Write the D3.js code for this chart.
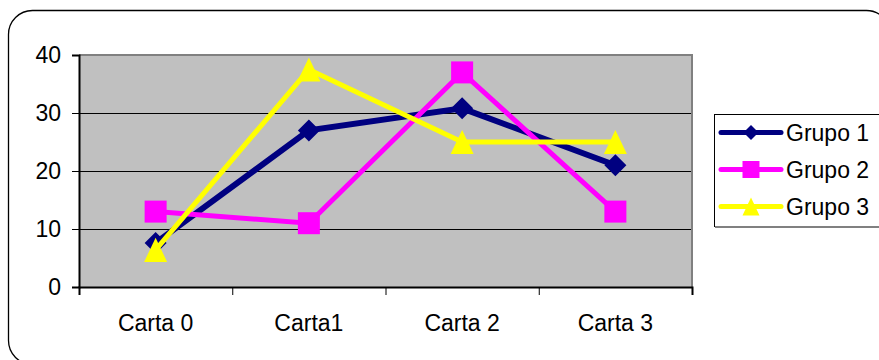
<!DOCTYPE html>
<html>
<head>
<meta charset="utf-8">
<script src="https://cdn.jsdelivr.net/npm/d3@7"></script>
<style>
  html, body { margin: 0; padding: 0; background: #fff; }
  svg { display: block; font-family: "Liberation Sans", Arial, sans-serif; }
</style>
</head>
<body>
<svg id="chart" width="879" height="360"></svg>
<script>
// Categories and series values
const categories = ["Carta 0", "Carta1", "Carta 2", "Carta 3"];
const grupo1 = [7.6, 27, 30.8, 21];
const grupo2 = [13, 11, 37, 13];
const grupo3 = [6.4, 37.5, 25, 25];
const seriesNames = ["Grupo 1", "Grupo 2", "Grupo 3"];
const yTicks = [0, 10, 20, 30, 40];

const series = [
  { name: seriesNames[0], values: grupo1, color: "#000080", symbol: "diamond" },
  { name: seriesNames[1], values: grupo2, color: "#FF00FF", symbol: "square" },
  { name: seriesNames[2], values: grupo3, color: "#FFFF00", symbol: "triangle" }
];

const svg = d3.select("#chart");
const plot = { left: 79, right: 692, top: 55, bottom: 287 };
const fontSize = 23;

// Rounded outer frame
svg.append("rect")
  .attr("x", 8.5).attr("y", 10.5)
  .attr("width", 882).attr("height", 354)
  .attr("rx", 24).attr("ry", 24)
  .attr("fill", "#fff").attr("stroke", "#000").attr("stroke-width", 1.3);

const x = d3.scaleBand().domain(categories).range([plot.left, plot.right]);
const xEdge = d3.scaleLinear().domain([0, categories.length]).range([plot.left, plot.right]);
const y = d3.scaleLinear().domain([0, 40]).range([plot.bottom, plot.top]);

// Plot area background
svg.append("rect")
  .attr("x", plot.left).attr("y", plot.top)
  .attr("width", plot.right - plot.left).attr("height", plot.bottom - plot.top)
  .attr("fill", "#C0C0C0");

// Horizontal gridlines
svg.append("g").selectAll("line")
  .data(yTicks.filter(t => t > 0 && t < 40))
  .join("line")
  .attr("x1", plot.left).attr("x2", plot.right)
  .attr("y1", d => Math.round(y(d)) + 0.5).attr("y2", d => Math.round(y(d)) + 0.5)
  .attr("stroke", "#000").attr("stroke-width", 1);

// Plot area border (top and right)
svg.append("path")
  .attr("d", `M${plot.left},${plot.top} H${plot.right} V${plot.bottom}`)
  .attr("fill", "none").attr("stroke", "#808080").attr("stroke-width", 2);

// Y axis
const yAxis = svg.append("g")
  .attr("transform", `translate(${plot.left},0)`)
  .call(d3.axisLeft(y).tickValues(yTicks).tickSize(7).tickPadding(11));
yAxis.select(".domain").attr("stroke", "#000").attr("stroke-width", 2);
yAxis.selectAll(".tick line").attr("stroke", "#000");
yAxis.selectAll("text").attr("font-size", fontSize).attr("fill", "#000")
  .attr("font-family", "Liberation Sans, Arial, sans-serif");

// X axis: tick marks at category boundaries
const xTicks = svg.append("g")
  .attr("transform", `translate(0,${plot.bottom})`)
  .call(d3.axisBottom(xEdge).tickValues(d3.range(categories.length + 1)).tickSize(8).tickFormat(""));
xTicks.select(".domain").attr("stroke", "#000").attr("stroke-width", 2);
xTicks.selectAll(".tick line").attr("stroke", "#000");

// X axis: category labels centred in each band
const xLabels = svg.append("g")
  .attr("transform", `translate(0,${plot.bottom})`)
  .call(d3.axisBottom(x).tickSize(0).tickPadding(28));
xLabels.select(".domain").remove();
xLabels.selectAll("text").attr("font-size", fontSize).attr("fill", "#000")
  .attr("font-family", "Liberation Sans, Arial, sans-serif");

// Marker shapes
function markerPath(symbol, s) {
  if (symbol === "diamond") return `M0,${-s}L${s},0L0,${s}L${-s},0Z`;
  if (symbol === "square") return `M${-s},${-s}H${s}V${s}H${-s}Z`;
  return `M0,${-s * 1.05}L${s},${s * 1.05}H${-s}Z`;
}
const markerSize = { diamond: 11, square: 11, triangle: 11.5 };
const lineWidth = { diamond: 6, square: 5, triangle: 5 };

const line = d3.line()
  .x((d, i) => x(categories[i]) + x.bandwidth() / 2)
  .y(d => y(d));

series.forEach(s => {
  const g = svg.append("g");
  g.append("path")
    .attr("d", line(s.values))
    .attr("fill", "none")
    .attr("stroke", s.color)
    .attr("stroke-width", lineWidth[s.symbol])
    .attr("stroke-linejoin", "miter");
  g.selectAll("path.marker")
    .data(s.values)
    .join("path")
    .attr("class", "marker")
    .attr("transform", (d, i) => `translate(${x(categories[i]) + x.bandwidth() / 2},${y(d)})`)
    .attr("d", markerPath(s.symbol, markerSize[s.symbol]))
    .attr("fill", s.color);
});

// Legend
const legend = svg.append("g");
legend.append("rect")
  .attr("x", 714.5).attr("y", 114.5)
  .attr("width", 200).attr("height", 112)
  .attr("fill", "#fff").attr("stroke", "#000").attr("stroke-width", 1);
legend.append("line")
  .attr("x1", 715).attr("x2", 879).attr("y1", 227).attr("y2", 227)
  .attr("stroke", "#808080").attr("stroke-width", 2);

const legendRows = [132.5, 169.5, 206.5];
series.forEach((s, i) => {
  const row = legend.append("g").attr("transform", `translate(0,${legendRows[i]})`);
  row.append("line")
    .attr("x1", 721).attr("x2", 781)
    .attr("stroke", s.color).attr("stroke-width", 5).attr("stroke-linecap", "round");
  row.append("path")
    .attr("transform", "translate(751,0)")
    .attr("d", markerPath(s.symbol, s.symbol === "diamond" ? 7.5 : 8.5))
    .attr("fill", s.color);
  row.append("text")
    .attr("x", 786).attr("y", 0).attr("dy", "0.36em")
    .attr("font-size", fontSize).attr("fill", "#000")
    .text(s.name);
});
</script>
</body>
</html>
